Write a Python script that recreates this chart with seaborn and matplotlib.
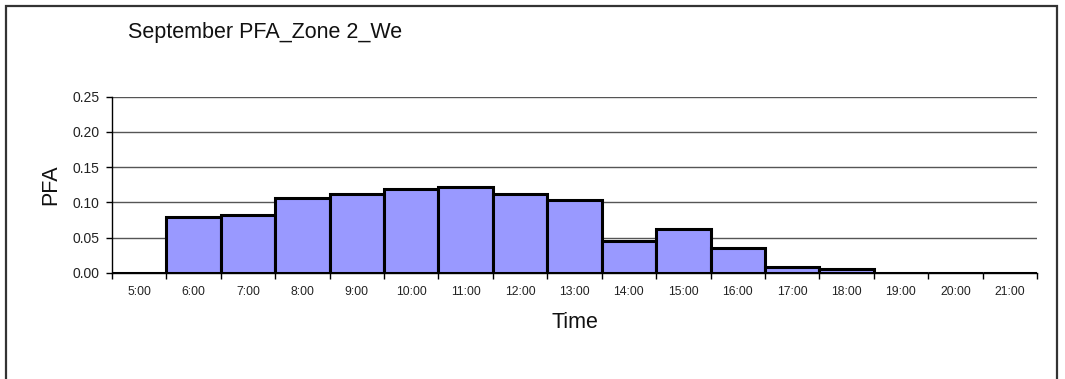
import matplotlib
matplotlib.use("Agg")
import matplotlib.pyplot as plt
from matplotlib.patches import Rectangle
from matplotlib.ticker import FixedLocator, FormatStrFormatter
import seaborn as sns
import pandas as pd

# Hourly PFA values, September, Zone 2, weekday
hours = ["5:00", "6:00", "7:00", "8:00", "9:00", "10:00", "11:00", "12:00",
         "13:00", "14:00", "15:00", "16:00", "17:00", "18:00", "19:00",
         "20:00", "21:00"]
pfa = [0.0, 0.079, 0.082, 0.107, 0.112, 0.119, 0.122, 0.112,
       0.104, 0.045, 0.063, 0.036, 0.009, 0.006, 0.0, 0.0, 0.0]
y_ticks = [0.0, 0.05, 0.10, 0.15, 0.20, 0.25]

df = pd.DataFrame({"Time": hours, "PFA": pfa})

sns.set_theme(style="white")
plt.rcParams["font.family"] = ["Liberation Sans", "DejaVu Sans"]

W, H = 1065, 379
fig = plt.figure(figsize=(W / 100, H / 100), dpi=100)
ax = fig.add_axes([112 / W, 1 - 273 / H, (1037 - 112) / W, (273 - 96.7) / H])

sns.barplot(data=df, x="Time", y="PFA", order=hours, color="#9999FF",
            saturation=1, width=1.0, edgecolor="black", linewidth=2.2,
            ax=ax, zorder=3)

ax.set_xlim(-0.5, len(hours) - 0.5)
ax.set_ylim(0, 0.25)
ax.set_yticks(y_ticks)
ax.yaxis.set_major_formatter(FormatStrFormatter("%.2f"))
ax.yaxis.grid(True, color="#555555", linewidth=1.0, zorder=0)
ax.set_axisbelow(True)

# ticks on the category boundaries, labels centred under each category
ax.xaxis.set_major_locator(FixedLocator([i - 0.5 for i in range(len(hours) + 1)]))
ax.xaxis.set_minor_locator(FixedLocator(list(range(len(hours)))))
ax.set_xticklabels([], minor=False)
ax.set_xticklabels(hours, minor=True)
ax.tick_params(axis="x", which="major", bottom=True, length=4, width=1,
               color="black", direction="out")
ax.tick_params(axis="x", which="minor", bottom=True, length=0, pad=9.5,
               labelsize=8.8, labelcolor="#222222")
ax.tick_params(axis="y", left=True, length=4, width=1, color="black",
               direction="out", labelsize=10, labelcolor="#222222", pad=5)

for side in ("top", "right"):
    ax.spines[side].set_visible(False)
for side in ("left", "bottom"):
    ax.spines[side].set_color("black")
    ax.spines[side].set_linewidth(1.0)

ax.set_xlabel("Time", fontsize=15.5, color="#111111", labelpad=10)
ax.set_ylabel("PFA", fontsize=15.5, color="#111111", labelpad=8)

fig.text(128 / W, 1 - 37.7 / H, "September PFA_Zone 2_We", fontsize=15.5,
         color="#111111", ha="left", va="baseline")

# chart frame
fig.patches.append(Rectangle((5.5 / W, -0.05), (1056.5 - 5.5) / W,
                             1.05 - 5.5 / H, transform=fig.transFigure,
                             fill=False, edgecolor="#333333", linewidth=1.6))

fig.savefig("out.png", dpi=100, facecolor="white")
